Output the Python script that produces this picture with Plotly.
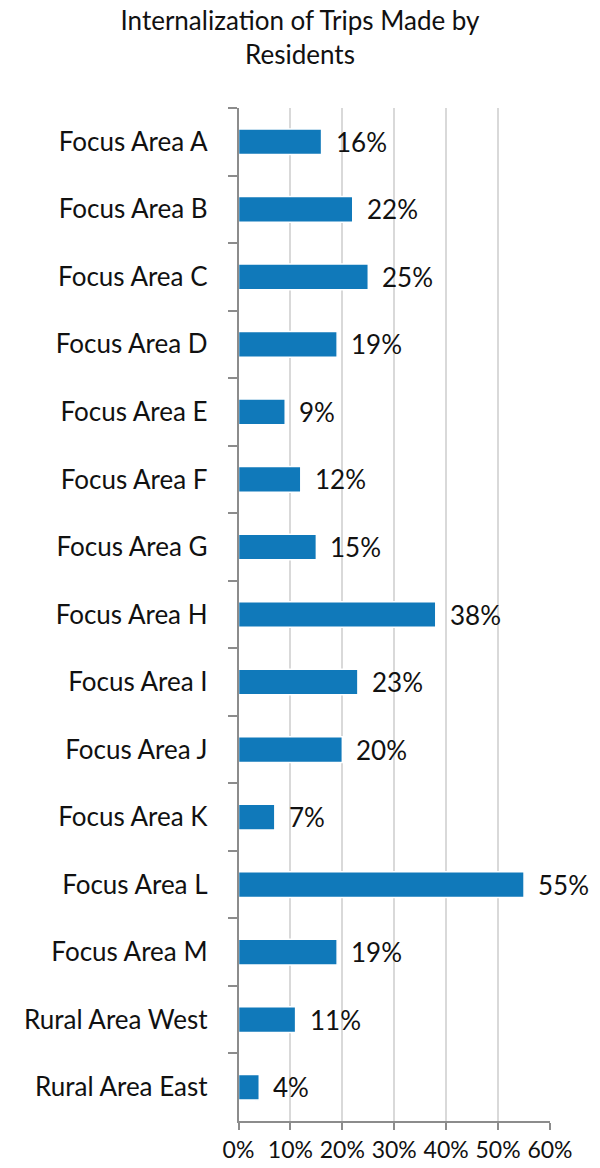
import plotly.graph_objects as go

categories = ["Focus Area A", "Focus Area B", "Focus Area C", "Focus Area D", "Focus Area E",
              "Focus Area F", "Focus Area G", "Focus Area H", "Focus Area I", "Focus Area J",
              "Focus Area K", "Focus Area L", "Focus Area M", "Rural Area West", "Rural Area East"]
internalization_pct = [16, 22, 25, 19, 9, 12, 15, 38, 23, 20, 7, 55, 19, 11, 4]
x_tick_values = [0, 10, 20, 30, 40, 50, 60]
x_tick_labels = ["0%", "10%", "20%", "30%", "40%", "50%", "60%"]

FONT = "Lato"
FSIZE = 26
TXT = "#111111"
BAR_COLOR = "#1079ba"
plot_w, plot_h = 600 - 236 - 50, 1168 - 105 - 47
dx = 2.5 / plot_w   # shadow offset (paper fraction)
dy = 3.0 / plot_h

fig = go.Figure()

# drop shadow on the base (hidden) axes, shifted right/down
fig.add_trace(go.Bar(
    x=internalization_pct, y=categories, orientation="h",
    xaxis="x", yaxis="y", width=0.38,
    marker=dict(color="rgba(0,0,0,0.2)", line=dict(width=0)),
    hoverinfo="skip", showlegend=False,
))

# main bars on the visible axes, drawn above the shadow
fig.add_trace(go.Bar(
    x=internalization_pct, y=categories, orientation="h",
    xaxis="x2", yaxis="y2", width=0.38,
    marker=dict(color=BAR_COLOR, line=dict(color="white", width=1.5)),
    showlegend=False,
))

for cat, v in zip(categories, internalization_pct):
    fig.add_annotation(x=v, y=cat, xref="x2", yref="y2", text=f"{v}%", showarrow=False,
                       xanchor="left", xshift=12,
                       font=dict(family=FONT, size=FSIZE, color=TXT))

fig.update_layout(
    width=600, height=1168,
    margin=dict(l=236, r=50, t=105, b=47, autoexpand=False),
    paper_bgcolor="white", plot_bgcolor="white",
    title=dict(text="Internalization of Trips Made by<br>Residents",
               x=0.5, xref="container", xanchor="center",
               y=0.974, yref="container", yanchor="top",
               font=dict(family=FONT, size=FSIZE, color=TXT)),
    xaxis=dict(range=[0, 60], domain=[dx, 1], anchor="y", visible=False, fixedrange=True),
    yaxis=dict(domain=[0, 1 - dy], anchor="x", visible=False, fixedrange=True,
               categoryorder="array", categoryarray=categories, autorange="reversed"),
    xaxis2=dict(range=[0, 60], domain=[0, 1 - dx], anchor="y2", overlaying="x",
                tickvals=x_tick_values, ticktext=x_tick_labels, tickangle=0,
                showgrid=True, gridcolor="#d9d9d9", gridwidth=1.5,
                showline=True, linecolor="#8c8c8c", linewidth=1.5,
                ticks="outside", ticklen=7, tickcolor="#8c8c8c", tickwidth=1.5,
                ticklabelstandoff=1,
                tickfont=dict(family=FONT, size=23, color=TXT),
                zeroline=False, fixedrange=True, automargin=False),
    yaxis2=dict(domain=[dy, 1], anchor="x2", overlaying="y",
                categoryorder="array", categoryarray=categories, autorange="reversed",
                showline=True, linecolor="#8c8c8c", linewidth=1.5,
                ticks="outside", tickson="boundaries", ticklen=9, tickcolor="#8c8c8c", tickwidth=1.5,
                ticklabelstandoff=24,
                tickfont=dict(family=FONT, size=FSIZE, color=TXT),
                showgrid=False, fixedrange=True, automargin=False),
)

fig.write_html("out.html")
